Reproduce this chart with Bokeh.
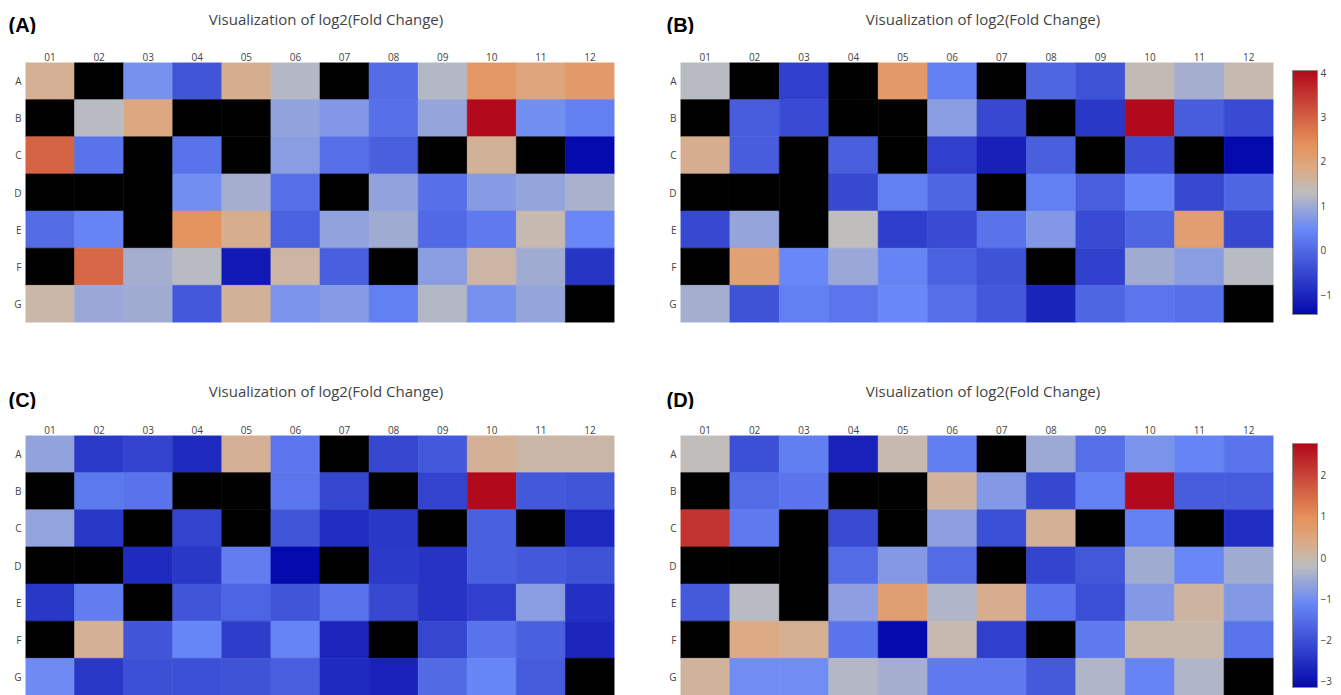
import numpy as np
from bokeh.plotting import figure
from bokeh.models import LinearColorMapper, ColorBar, ColumnDataSource, FixedTicker, Range1d
from bokeh.layouts import column, row
from bokeh.embed import file_html
from bokeh.resources import INLINE
from bokeh.core.properties import value

cols = ["01", "02", "03", "04", "05", "06", "07", "08", "09", "10", "11", "12"]
rows = ["A", "B", "C", "D", "E", "F", "G"]
N = np.nan

panel_a = [
    [1.65, N, 0.55, -0.35, 1.7, 1.15, N, 0.0, 1.15, 2.2, 1.9, 2.15],
    [N, 1.2, 1.85, N, N, 0.8, 0.65, 0.05, 0.85, 4.0, 0.5, 0.3],
    [2.9, 0.1, N, 0.1, N, 0.75, 0.05, -0.2, N, 1.6, N, -1.5],
    [N, N, N, 0.5, 1.0, 0.05, N, 0.8, 0.05, 0.7, 0.85, 1.05],
    [0.0, 0.35, N, 2.3, 1.7, -0.15, 0.8, 0.95, -0.05, 0.2, 1.4, 0.4],
    [N, 2.85, 1.0, 1.2, -1.25, 1.5, -0.2, N, 0.75, 1.5, 0.95, -0.85],
    [1.45, 0.9, 0.95, -0.3, 1.6, 0.6, 0.7, 0.3, 1.15, 0.55, 0.85, N],
]
panel_b = [
    [1.25, N, -0.62, N, 2.2, 0.35, N, -0.05, -0.35, 1.4, 1.05, 1.45],
    [N, -0.2, -0.45, N, N, 0.8, -0.5, N, -0.75, 4.05, -0.2, -0.45],
    [1.75, -0.2, N, -0.15, N, -0.62, -1.1, -0.15, N, -0.4, N, -1.45],
    [N, N, N, -0.5, 0.35, -0.05, N, 0.35, -0.15, 0.45, -0.5, -0.05],
    [-0.5, 0.9, N, 1.3, -0.65, -0.45, 0.15, 0.7, -0.45, -0.05, 2.1, -0.5],
    [N, 2.05, 0.45, 0.95, 0.4, -0.1, -0.35, N, -0.6, 1.0, 0.8, 1.25],
    [1.05, -0.35, 0.35, 0.2, 0.45, 0.1, -0.25, -1.05, -0.05, 0.2, 0.1, N],
]
panel_c = [
    [-0.68, -2.42, -2.25, -2.65, 0.2, -1.4, N, -2.2, -1.9, 0.2, 0.05, 0.05],
    [N, -1.35, -1.45, N, N, -1.4, -2.2, N, -2.25, 2.8, -1.9, -1.95],
    [-0.65, -2.45, N, -2.25, N, -1.95, -2.6, -2.45, N, -1.75, N, -2.7],
    [N, N, -2.65, -2.45, -1.3, -3.2, N, -2.4, -2.5, -1.75, -1.9, -2.0],
    [-2.45, -1.3, N, -1.95, -1.7, -1.95, -1.45, -2.15, -2.5, -2.3, -0.75, -2.55],
    [N, 0.2, -1.95, -1.15, -2.35, -1.2, -2.75, N, -2.2, -1.45, -1.75, -2.75],
    [-1.05, -2.45, -2.05, -2.05, -2.0, -1.8, -2.65, -2.8, -1.6, -1.15, -1.85, N],
]
panel_d = [
    [-0.15, -2.0, -1.25, -2.75, -0.05, -1.25, N, -0.55, -1.5, -0.9, -1.15, -1.4],
    [N, -1.55, -1.4, N, N, 0.15, -0.8, -2.15, -1.2, 2.77, -1.8, -1.8],
    [2.2, -1.3, N, -2.1, N, -0.7, -2.0, 0.22, N, -1.2, N, -2.55],
    [N, N, N, -1.55, -0.8, -1.55, N, -2.2, -1.9, -0.5, -1.1, -0.5],
    [-1.85, -0.25, N, -0.7, 0.65, -0.35, 0.3, -1.4, -2.0, -0.8, 0.1, -0.8],
    [N, 0.4, 0.25, -1.4, -3.15, -0.05, -2.25, N, -1.3, 0.0, 0.0, -1.4],
    [0.15, -1.0, -1.0, -0.3, -0.45, -1.3, -1.3, -1.85, -0.35, -1.15, -0.35, N],
]
cbar_ticks_b = [-1, 0, 1, 2, 3, 4]
cbar_ticks_d = [-3, -2, -1, 0, 1, 2]
title_text = "Visualization of log2(Fold Change)"
panel_tags = ["(A)", "(B)", "(C)", "(D)"]

# Plotly-style RdBu (reversed: blue = low)
stops = [(0.0, (5, 10, 172)), (0.35, (106, 137, 247)), (0.5, (190, 190, 190)),
         (0.6, (220, 170, 132)), (0.7, (230, 145, 90)), (1.0, (178, 10, 28))]
palette = []
for k in range(256):
    t = k / 255
    for (t0, c0), (t1, c1) in zip(stops[:-1], stops[1:]):
        if t0 <= t <= t1:
            f = (t - t0) / (t1 - t0)
            rgb = [round(a + (b - a) * f) for a, b in zip(c0, c1)]
            palette.append("#%02x%02x%02x" % tuple(rgb))
            break

FONT = "Open Sans"
PAGE_W = 1341
LEFT_W = 663

# frame geometry (pixels)
FA_L, FA_W = 25, 589
FB_L, FB_W = 17, 593
FRAME_H = 260


def make_panel(vals, ticks, border_left, frame_w, border_top, border_bottom, border_right):
    xs, ys, vs = [], [], []
    for i, r in enumerate(rows):
        for j, c in enumerate(cols):
            xs.append(c)
            ys.append(r)
            vs.append(vals[i][j])
    arr = np.array(vs, dtype=float)
    src = ColumnDataSource(dict(col=xs, row=ys, v=arr))
    mapper = LinearColorMapper(palette=palette, low=float(np.nanmin(arr)),
                               high=float(np.nanmax(arr)), nan_color="black")
    p = figure(x_range=cols, y_range=list(reversed(rows)), x_axis_location="above",
               frame_width=frame_w, frame_height=FRAME_H,
               min_border_left=border_left, min_border_right=border_right,
               min_border_top=border_top, min_border_bottom=border_bottom,
               toolbar_location=None, output_backend="svg")
    p.rect(x="col", y="row", width=1, height=1, source=src,
           fill_color={"field": "v", "transform": mapper},
           line_color={"field": "v", "transform": mapper}, line_width=0.6)
    p.outline_line_color = None
    p.grid.grid_line_color = None
    for ax in (p.xaxis, p.yaxis):
        ax.axis_line_color = None
        ax.major_tick_line_color = None
        ax.minor_tick_line_color = None
        ax.major_tick_out = 0
        ax.major_tick_in = 0
        ax.minor_tick_out = 0
        ax.minor_tick_in = 0
        ax.major_label_text_font = FONT
        ax.major_label_text_font_size = "10px"
        ax.major_label_text_color = "#444444"
    p.xaxis.major_label_standoff = 2
    p.yaxis.major_label_standoff = 4

    if ticks is not None:
        overrides = {t: str(t).replace("-", "\u2212") for t in ticks if t < 0}
        cb = ColorBar(color_mapper=mapper, ticker=FixedTicker(ticks=ticks),
                      major_label_overrides=overrides,
                      width=25, height=FRAME_H - 16, location=(19, 8),
                      margin=0, padding=0,
                      major_tick_line_color=None, minor_tick_line_color=None,
                      bar_line_color="#8c8c8c", bar_line_width=1,
                      label_standoff=3, major_label_text_font=FONT,
                      major_label_text_font_size="10px",
                      major_label_text_color="#444444",
                      background_fill_color=None, border_line_color=None)
        p.add_layout(cb, "right")
    return p


def make_header(height, tags, title_y, tag_y):
    h = figure(width=PAGE_W, height=height, x_range=Range1d(0, PAGE_W),
               y_range=Range1d(height, 0), x_axis_type=None, y_axis_type=None,
               min_border=0, toolbar_location=None, output_backend="svg")
    h.outline_line_color = None
    h.grid.grid_line_color = None
    title_x = [FA_L + FA_W / 2 + 6, LEFT_W + FB_L + FB_W / 2 + 6]
    h.text(x=title_x, y=[title_y, title_y], text=[title_text, title_text],
           text_font=value(FONT), text_font_size="15px", text_color="#444444",
           text_align="center", text_baseline="middle")
    h.text(x=[8, LEFT_W + 3], y=[tag_y, tag_y], text=tags,
           text_font=value("Liberation Sans"), text_font_size="20px",
           text_font_style="bold", text_color="black",
           text_align="left", text_baseline="middle")
    return h


hdr_top = make_header(34, panel_tags[:2], 18, 24)
pa = make_panel(panel_a, None, FA_L, FA_W, 28, 41, LEFT_W - FA_L - FA_W)
pb = make_panel(panel_b, cbar_ticks_b, FB_L, FB_W, 28, 41, PAGE_W - LEFT_W - FB_L - FB_W)
hdr_bot = make_header(46, panel_tags[2:], 27, 36)
pc = make_panel(panel_c, None, FA_L, FA_W, 26, 0, LEFT_W - FA_L - FA_W)
pd = make_panel(panel_d, cbar_ticks_d, FB_L, FB_W, 26, 0, PAGE_W - LEFT_W - FB_L - FB_W)

layout = column(hdr_top, row(pa, pb, spacing=0), hdr_bot, row(pc, pd, spacing=0), spacing=0)
open("out.html", "w").write(file_html(layout, INLINE))
